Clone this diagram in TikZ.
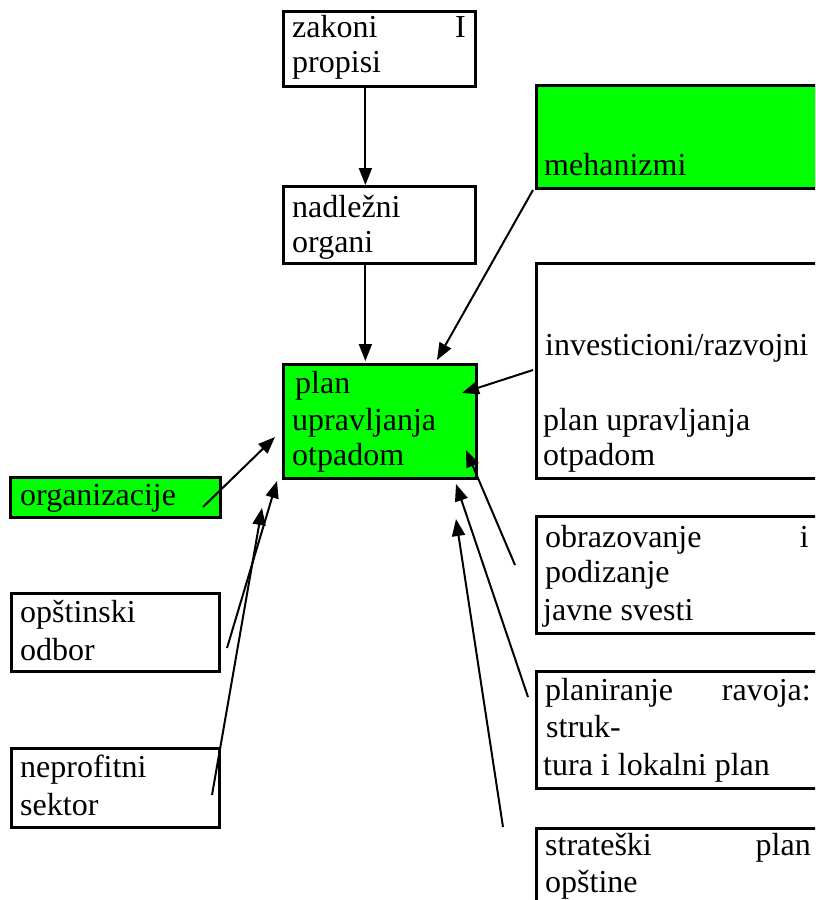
\documentclass[tikz,border=0pt]{standalone}
\usepackage{fontspec}
\setmainfont{Liberation Serif}
\usetikzlibrary{arrows.meta}
\definecolor{lgreen}{HTML}{00FF00}
\begin{document}
\begin{tikzpicture}[x=1pt,y=-1pt,
  box/.style={draw=black,line width=2.8pt,anchor=north west,inner sep=0pt},
  gbox/.style={box,fill=lgreen},
  txt/.style={anchor=base west,inner sep=0pt,font=\fontsize{32}{36}\selectfont},
  txtr/.style={anchor=base east,inner sep=0pt,font=\fontsize{32}{36}\selectfont},
  arr/.style={draw=black,line width=2pt,-{Triangle[length=17pt,width=13pt]}}]
\clip (0,0) rectangle (815,900);
\fill[white] (0,0) rectangle (815,900);
% boxes
\node[box,minimum width=192pt,minimum height=75pt] (zak) at (282,10) {};
\node[box,minimum width=192pt,minimum height=77pt] (nad) at (282,185) {};
\node[gbox,minimum width=290pt,minimum height=103pt] (meh) at (535,84) {};
\node[box,minimum width=290pt,minimum height=215pt] (inv) at (535,262) {};
\node[gbox,minimum width=193pt,minimum height=114pt] (plan) at (282,363) {};
\node[gbox,minimum width=210pt,minimum height=40pt] (org) at (9,476) {};
\node[box,minimum width=208pt,minimum height=78pt] (ops) at (10,592) {};
\node[box,minimum width=208pt,minimum height=79pt] (nep) at (10,747) {};
\node[box,minimum width=290pt,minimum height=117pt] (obr) at (535,515) {};
\node[box,minimum width=290pt,minimum height=117pt] (pla) at (535,670) {};
\node[box,minimum width=290pt,minimum height=90pt] (str) at (535,827) {};
% texts
\node[txt] (t1) at (292,37) {zakoni};
\node[txtr] (t2) at (466,37) {I};
\node[txt] (t3) at (292,72) {propisi};
\node[txt] (t4) at (292,217) {nadležni};
\node[txt] (t5) at (292,252) {organi};
\node[txt] (t6) at (544,175) {mehanizmi};
\node[txt] (t7) at (545,355) {investicioni/razvojni};
\node[txt] (t8) at (543,430) {plan upravljanja};
\node[txt] (t9) at (543,465) {otpadom};
\node[txt] (t10) at (295,393) {plan};
\node[txt] (t11) at (292,430) {upravljanja};
\node[txt] (t12) at (292,465) {otpadom};
\node[txt] (t13) at (20,505) {organizacije};
\node[txt] (t14) at (20,622) {opštinski};
\node[txt] (t15) at (20,660) {odbor};
\node[txt] (t16) at (20,777) {neprofitni};
\node[txt] (t17) at (20,815) {sektor};
\node[txt] (t18) at (545,547) {obrazovanje};
\node[txtr] (t19) at (809,547) {i};
\node[txt] (t20) at (545,582) {podizanje};
\node[txt] (t21) at (543,620) {javne svesti};
\node[txt] (t22) at (545,700) {planiranje};
\node[txtr] (t23) at (811,700) {ravoja:};
\node[txt] (t24) at (546,737) {struk-};
\node[txt] (t25) at (543,775) {tura i lokalni plan};
\node[txt] (t26) at (545,855) {strateški};
\node[txtr] (t27) at (811,855) {plan};
\node[txt] (t28) at (545,892) {opštine};
% arrow end points
\coordinate (mehT) at (533,190);
\coordinate (mehH) at (437,360);
\coordinate (invT) at (533,370);
\coordinate (invH) at (462,393);
\coordinate (obrT) at (515,565);
\coordinate (obrH) at (466,450);
\coordinate (plaT) at (528,697);
\coordinate (plaH) at (456,484);
\coordinate (strT) at (503,827);
\coordinate (strH) at (456,519);
\coordinate (orgT) at (203,507);
\coordinate (orgH) at (275,437);
\coordinate (opsT) at (227,648);
\coordinate (opsH) at (277,481);
\coordinate (nepT) at (212,795);
\coordinate (nepH) at (262,508);
% arrows
\draw[arr] ([xshift=-14pt]zak.south) -- ([xshift=-14pt]nad.north);
\draw[arr] ([xshift=-14pt]nad.south) -- ([xshift=-14.5pt,yshift=2pt]plan.north);
\draw[arr] (mehT) -- (mehH);
\draw[arr] (invT) -- (invH);
\draw[arr] (obrT) -- (obrH);
\draw[arr] (plaT) -- (plaH);
\draw[arr] (strT) -- (strH);
\draw[arr] (orgT) -- (orgH);
\draw[arr] (opsT) -- (opsH);
\draw[arr] (nepT) -- (nepH);
\end{tikzpicture}
\end{document}
